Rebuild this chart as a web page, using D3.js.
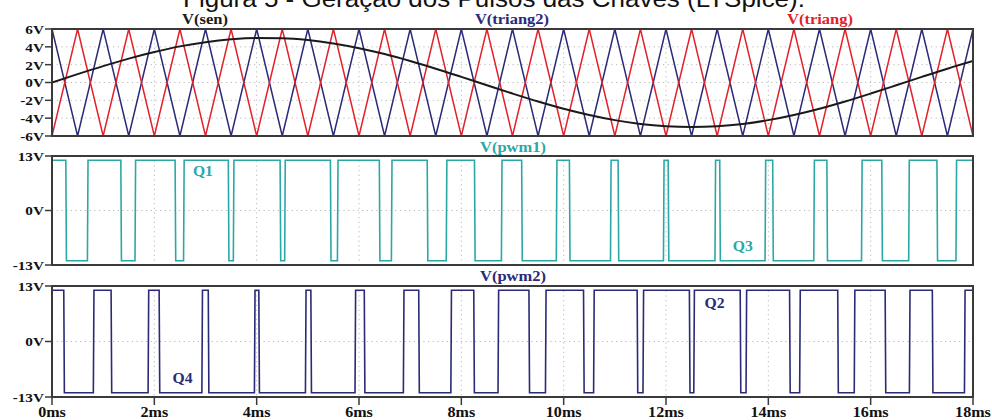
<!DOCTYPE html>
<html><head><meta charset="utf-8">
<script src="https://cdn.jsdelivr.net/npm/d3@7"></script>
<style>body{margin:0;background:#fff}svg{display:block}</style>
</head><body><svg id="c" width="992" height="420"></svg>
<script>
const titleText = "Figura 5 - Geração dos Pulsos das Chaves (LTSpice).";
const timeTicks = [0, 2, 4, 6, 8, 10, 12, 14, 16, 18];
const timeTickLabels = ["0ms", "2ms", "4ms", "6ms", "8ms", "10ms", "12ms", "14ms", "16ms", "18ms"];
const triVoltTicks = [6, 4, 2, 0, -2, -4, -6];
const triVoltLabels = ["6V", "4V", "2V", "0V", "-2V", "-4V", "-6V"];
const pwmVoltTicks = [13, 0, -13];
const pwmVoltLabels = ["13V", "0V", "-13V"];

const sineTime = [0,0.5,1,1.5,2,2.5,3,3.5,4,4.5,5,5.5,6,6.5,7,7.5,8,8.5,9,9.5,10,10.5,11,11.5,12,12.5,13,13.5,14,14.5,15,15.5,16,16.5,17,17.5,18];
const sineValues = [0,0.94,1.84,2.68,3.42,4.05,4.52,4.84,4.99,4.96,4.76,4.38,3.85,3.19,2.41,1.55,0.63,-0.31,-1.24,-2.13,-2.94,-3.64,-4.22,-4.65,-4.91,-5.00,-4.91,-4.65,-4.22,-3.64,-2.94,-2.13,-1.24,-0.31,0.63,1.55,2.41];

const triTime = [0,0.5,1,1.5,2,2.5,3,3.5,4,4.5,5,5.5,6,6.5,7,7.5,8,8.5,9,9.5,10,10.5,11,11.5,12,12.5,13,13.5,14,14.5,15,15.5,16,16.5,17,17.5,18];
const triangValues = [-6,6,-6,6,-6,6,-6,6,-6,6,-6,6,-6,6,-6,6,-6,6,-6,6,-6,6,-6,6,-6,6,-6,6,-6,6,-6,6,-6,6,-6,6,-6];
const triang2Values = [6,-6,6,-6,6,-6,6,-6,6,-6,6,-6,6,-6,6,-6,6,-6,6,-6,6,-6,6,-6,6,-6,6,-6,6,-6,6,-6,6,-6,6,-6,6];

const pwm1LowStart = [0.270,1.345,2.406,3.446,4.458,5.441,6.397,7.333,8.257,9.179,10.112,11.064,12.043,13.050,14.085,15.144,16.217,17.295];
const pwm1LowEnd   = [0.692,1.622,2.571,3.544,4.547,5.578,6.633,7.705,8.783,9.856,10.915,11.950,12.957,13.936,14.888,15.821,16.743,17.667];
const pwm2LowStart = [0.230,1.155,2.094,3.054,4.042,5.059,6.103,7.167,8.243,9.321,10.388,11.436,12.457,13.450,14.415,15.356,16.283,17.205];
const pwm2LowEnd   = [0.808,1.878,2.929,3.956,4.953,5.922,6.867,7.795,8.717,9.644,10.585,11.550,12.543,13.564,14.612,15.679,16.757,17.833];
const pwmHigh = 12, pwmLow = -12;

const seriesNames = ["V(sen)", "V(triang2)", "V(triang)", "V(pwm1)", "V(pwm2)"];
const switchLabels = ["Q1", "Q3", "Q4", "Q2"];

// ---------- drawing ----------
const C = { red: "#e2222a", navy: "#2a2a78", black: "#1a1a1a", teal: "#2ba8a6", frame: "#3a3a3a", grid: "#b8b8b8" };
const SERIF = "'Liberation Serif','Times New Roman',serif";
const SANS = "'Liberation Sans',Arial,sans-serif";
const svg = d3.select("#c");
const x = d3.scaleLinear().domain([0, 18]).range([52, 973]);
const defs = svg.append("defs");

function label(g, px, py, s, o) {
  g.append("text")
    .attr("transform", `translate(${px},${py}) scale(${o.sx || 1},1)`)
    .attr("text-anchor", o.anchor || "middle")
    .attr("dy", o.dy || 0)
    .attr("font-family", o.family || SERIF)
    .attr("font-weight", o.weight || "bold")
    .attr("font-size", o.size)
    .attr("fill", o.fill || "#111")
    .text(s);
}

function panel(id, y0, y1, dom, ticks, tickLabels) {
  const y = d3.scaleLinear().domain(dom).range([y1, y0]);
  const g = svg.append("g");
  defs.append("clipPath").attr("id", id).append("rect")
    .attr("x", x(0)).attr("y", y0).attr("width", x(18) - x(0)).attr("height", y1 - y0);
  const grid = g.append("g").attr("stroke", C.grid).attr("stroke-width", 1).attr("stroke-dasharray", "1.2,3.5");
  ticks.filter(v => v !== dom[0] && v !== dom[1]).forEach(v => {
    grid.append("line").attr("x1", x(0)).attr("x2", x(18)).attr("y1", y(v)).attr("y2", y(v));
  });
  timeTicks.filter(t => t > 0 && t < 18).forEach(t => {
    grid.append("line").attr("x1", x(t)).attr("x2", x(t)).attr("y1", y0).attr("y2", y1);
  });
  const plot = g.append("g").attr("clip-path", `url(#${id})`);
  ticks.forEach((v, i) => {
    g.append("line").attr("x1", x(0) - 7).attr("x2", x(0)).attr("y1", y(v)).attr("y2", y(v))
      .attr("stroke", C.frame).attr("stroke-width", 1.5);
    label(g, x(0) - 8, y(v), tickLabels[i], { size: 13.5, sx: 1.13, anchor: "end", dy: "0.36em" });
  });
  return { g, plot, y, y0, y1 };
}

function frame(p) {
  p.g.append("rect").attr("x", x(0)).attr("y", p.y0).attr("width", x(18) - x(0)).attr("height", p.y1 - p.y0)
    .attr("fill", "none").attr("stroke", C.frame).attr("stroke-width", 2);
}

// title (partly cut off at the top, as in the reference)
label(svg, 494, 7, titleText, { size: 23, sx: 1.13, family: SANS, weight: "normal", fill: "#111" });

// ---- top panel: sine + triangles ----
const p1 = panel("cp1", 29, 136, [-6, 6], triVoltTicks, triVoltLabels);
const lineT = d3.line().x(d => x(d[0])).y(d => p1.y(d[1]));
p1.plot.append("path").datum(triTime.map((t, i) => [t, triang2Values[i]]))
  .attr("d", lineT).attr("fill", "none").attr("stroke", C.navy).attr("stroke-width", 1.5);
p1.plot.append("path").datum(triTime.map((t, i) => [t, triangValues[i]]))
  .attr("d", lineT).attr("fill", "none").attr("stroke", C.red).attr("stroke-width", 1.5);
p1.plot.append("path").datum(sineTime.map((t, i) => [t, sineValues[i]]))
  .attr("d", lineT.curve(d3.curveMonotoneX)).attr("fill", "none").attr("stroke", C.black).attr("stroke-width", 2);
frame(p1);
label(svg, 205, 24, seriesNames[0], { size: 15, sx: 1.1, fill: C.black });
label(svg, 512, 24, seriesNames[1], { size: 15, sx: 1.1, fill: C.navy });
label(svg, 820, 24, seriesNames[2], { size: 15, sx: 1.1, fill: C.red });

// ---- PWM panels ----
function pwmPoints(starts, ends) {
  const e = 0.012;
  const pts = [[0, pwmHigh]];
  starts.forEach((a, i) => {
    pts.push([a, pwmHigh], [a + e, pwmLow], [ends[i], pwmLow], [ends[i] + e, pwmHigh]);
  });
  pts.push([18, pwmHigh]);
  return pts;
}

const p2 = panel("cp2", 156, 265, [-13, 13], pwmVoltTicks, pwmVoltLabels);
p2.plot.append("path").datum(pwmPoints(pwm1LowStart, pwm1LowEnd))
  .attr("d", d3.line().x(d => x(d[0])).y(d => p2.y(d[1])))
  .attr("fill", "none").attr("stroke", C.teal).attr("stroke-width", 1.6);
frame(p2);
label(svg, 513, 152, seriesNames[3], { size: 15, sx: 1.1, fill: C.teal });
label(svg, x(2.95), p2.y(9.3), switchLabels[0], { size: 14, sx: 1.12, fill: C.teal, dy: "0.35em" });
label(svg, x(13.5), p2.y(-8.6), switchLabels[1], { size: 14, sx: 1.12, fill: C.teal, dy: "0.35em" });

const p3 = panel("cp3", 286, 397, [-13, 13], pwmVoltTicks, pwmVoltLabels);
p3.plot.append("path").datum(pwmPoints(pwm2LowStart, pwm2LowEnd))
  .attr("d", d3.line().x(d => x(d[0])).y(d => p3.y(d[1])))
  .attr("fill", "none").attr("stroke", C.navy).attr("stroke-width", 1.6);
frame(p3);
label(svg, 513, 281, seriesNames[4], { size: 15, sx: 1.1, fill: C.navy });
label(svg, x(2.55), p3.y(-8.6), switchLabels[2], { size: 14, sx: 1.12, fill: C.navy, dy: "0.35em" });
label(svg, x(12.95), p3.y(9.0), switchLabels[3], { size: 14, sx: 1.12, fill: C.navy, dy: "0.35em" });

// x axis ticks and labels (bottom)
timeTicks.forEach((t, i) => {
  svg.append("line").attr("x1", x(t)).attr("x2", x(t)).attr("y1", 397).attr("y2", 405)
    .attr("stroke", C.frame).attr("stroke-width", 1.5);
  label(svg, x(t), 416.5, timeTickLabels[i], { size: 14, sx: 1.15 });
});
</script></body></html>
